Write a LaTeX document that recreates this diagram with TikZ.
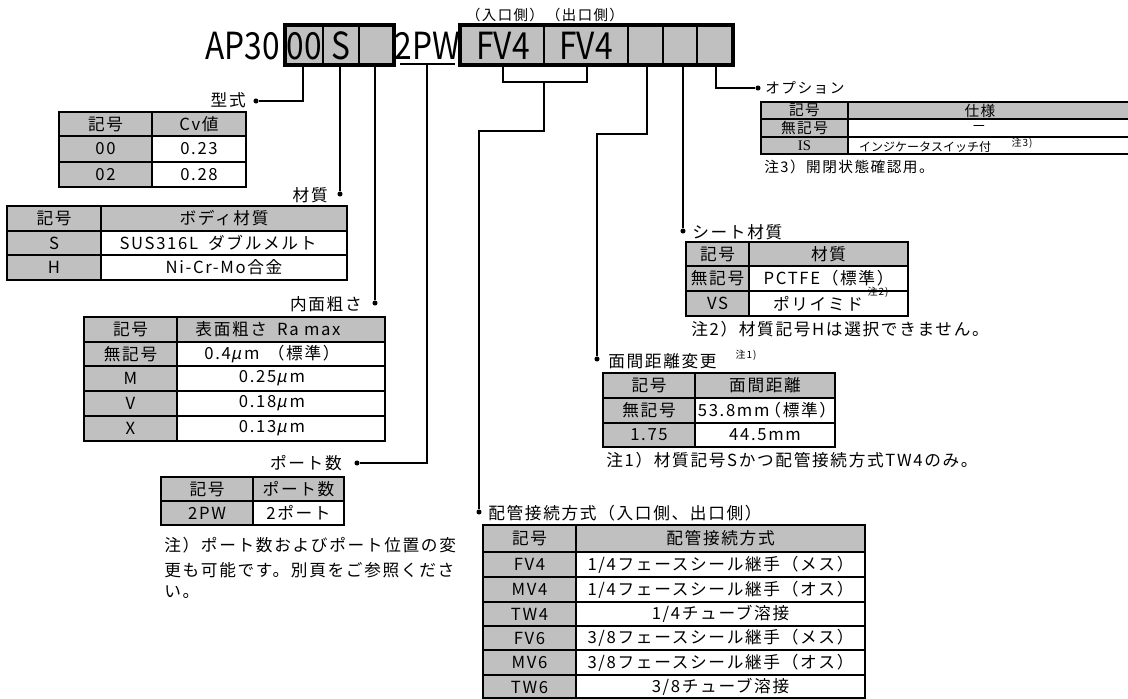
\documentclass[tikz,border=0pt]{standalone}
\usepackage{graphicx}
\usepackage{fontspec}
\setmainfont{Noto Sans CJK JP}[LetterSpace=10]
\newfontfamily\hdfont{Noto Sans CJK JP}
\newfontfamily\muf{Noto Sans CJK JP}[FakeSlant=0.2]
\newfontfamily\serifx{Liberation Serif}
\definecolor{cellgray}{RGB}{192,192,192}
% #1 left, #2 divider, #3 right, #4 top, #5 header bottom, #6 bottom, #7 row separators
\newcommand\mktab[7]{%
  \fill[cellgray] (#1,#4) rectangle (#2,#6);
  \fill[cellgray] (#2,#4) rectangle (#3,#5);
  \fill[white] (#2,#5) rectangle (#3,#6);
  \draw[line width=1.3pt] (#2,#4) -- (#2,#6);
  \foreach \yy in {#7} {\draw[line width=1.5pt] (#1,\yy) -- (#3,\yy);}
  \draw[line width=2pt] (#1,#4) rectangle (#3,#6);
}
\newcommand\um{{\muf μ}\,m}
\newcommand\hd[1]{\scalebox{0.95}[1.12]{#1}}
\tikzset{
  cell/.style={inner sep=0pt, font=\fontsize{12.5}{14}\selectfont},
  lbl/.style={inner sep=0pt, font=\fontsize{12.5}{14}\selectfont},
  toplbl/.style={inner sep=0pt, font=\fontsize{10.8}{13}\selectfont},
  optlbl/.style={inner sep=0pt, font=\fontsize{11}{13}\selectfont},
  txtmini/.style={inner sep=0pt, font=\hdfont\fontsize{9}{10}\selectfont},
  txttiny/.style={inner sep=0pt, font=\fontsize{7.5}{9}\selectfont},
  hdr/.style={inner sep=0pt, font=\hdfont\fontsize{25}{30}\selectfont},
  dot/.style={circle, fill=black, inner sep=0pt, minimum size=3.8pt},
  conn/.style={line width=1.1pt},
  boxthick/.style={line width=3pt},
  boxdiv/.style={line width=1.6pt},
}
\begin{document}
\begin{tikzpicture}[x=0.75pt,y=-0.75pt]
\useasboundingbox (0,0) rectangle (1128,699);
\fill[white] (0,0) rectangle (1128,699);

% ---------- header code ----------
\fill[cellgray] (285,25) rectangle (394,65);
\fill[cellgray] (460,25) rectangle (733,65);
\draw[boxdiv] (323,25)--(323,65) (359,25)--(359,65)
              (544,25)--(544,65) (628,25)--(628,65) (663,25)--(663,65) (697,25)--(697,65);
\draw[boxthick] (285,25) rectangle (394,65);
\draw[boxthick] (460,25) rectangle (733,65);

\node[hdr, anchor=east] (ap) at (280,46) {\hd{AP30}};
\node[hdr] (c00) at (304,46) {\hd{00}};
\node[hdr] (cS) at (341,46) {\hd{S}};
\node[hdr] (c2pw) at (427.5,46) {\hd{2PW}};
\draw[line width=1.1pt] (400,64) -- (455,64);
\node[hdr] (fv1) at (503,46) {\hd{FV4}};
\node[hdr] (fv2) at (586,46) {\hd{FV4}};
\node[toplbl] (inlet) at (505,15) {（入口側）};
\node[toplbl] (outlet) at (585,15) {（出口側）};

% ---------- connectors ----------
\coordinate (b00) at (303,65);
\node[dot] (dType) at (256,101) {};
\draw[conn] (b00) |- (dType);

\coordinate (bS) at (340,65);
\node[dot] (dMat) at (340,194) {};
\draw[conn] (bS) -- (dMat);

\coordinate (bSurf) at (375,65);
\node[dot] (dSurf) at (375,303) {};
\draw[conn] (bSurf) -- (dSurf);

\coordinate (b2pw) at (427,65);
\node[dot] (dPort) at (357,463) {};
\draw[conn] (b2pw) |- (dPort);

\coordinate (bkL) at (503,65);
\coordinate (bkR) at (587,65);
\coordinate (bkC) at (544,82);
\draw[conn] (bkL) |- (bkC) -| (bkR);
\coordinate (pipeTurn) at (544,131);
\node[dot] (dPipe) at (479,512) {};
\draw[conn] (bkC) -- (pipeTurn) -| (dPipe);

\coordinate (bFace) at (647,65);
\coordinate (faceTurn) at (647,134);
\node[dot] (dFace) at (597,359) {};
\draw[conn] (bFace) -- (faceTurn) -| (dFace);

\coordinate (bSeat) at (683,65);
\node[dot] (dSeat) at (683,231) {};
\draw[conn] (bSeat) -- (dSeat);

\coordinate (bOpt) at (716,65);
\node[dot] (dOpt) at (758,88) {};
\draw[conn] (bOpt) |- (dOpt);

% ---------- T1 型式 ----------
\node[lbl, anchor=east] (lType) at (246,100) {型式};
\mktab{59}{152}{246}{112}{136}{187}{136,162}
\node[cell] (t1a) at (105.5,124) {記号};
\node[cell] (t1b) at (199,124) {Cv値};
\node[cell] (t1c) at (105.5,149) {00};
\node[cell] (t1d) at (199,149) {0.23};
\node[cell] (t1e) at (105.5,174.5) {02};
\node[cell] (t1f) at (199,174.5) {0.28};

% ---------- T2 材質 ----------
\node[lbl, anchor=east] (lMat) at (328,195) {材質};
\mktab{7}{101}{347}{206}{231}{280}{231,255}
\node[cell] (t2a) at (54,218.5) {記号};
\node[cell] (t2b) at (224,218.5) {ボディ材質};
\node[cell] (t2c) at (54,243) {S};
\node[cell] (t2d) at (218,243) {SUS316L\hspace{0.6em}ダブルメルト};
\node[cell] (t2e) at (54,267.5) {H};
\node[cell] (t2f) at (224,267.5) {Ni-Cr-Mo合金};

% ---------- T3 内面粗さ ----------
\node[lbl, anchor=east] (lSurf) at (362,304) {内面粗さ};
\mktab{84}{177}{385}{317}{342}{441}{342,366,391,416}
\node[cell] (t3a) at (130.5,329.5) {記号};
\node[cell] (t3b) at (268,329.5) {表面粗さ\hspace{0.6em}Ra max};
\node[cell] (t3c) at (130.5,354) {無記号};
\node[cell] (t3d) at (272,354) {0.4\um\hspace{0.5em}（標準）};
\node[cell] (t3e) at (130.5,378.5) {M};
\node[cell] (t3f) at (272,378.5) {0.25\um};
\node[cell] (t3g) at (130.5,403.5) {V};
\node[cell] (t3h) at (272,403.5) {0.18\um};
\node[cell] (t3i) at (130.5,428.5) {X};
\node[cell] (t3j) at (272,428.5) {0.13\um};

% ---------- T4 ポート数 ----------
\node[lbl, anchor=east] (lPort) at (342,463) {ポート数};
\mktab{161}{253}{344}{477}{501}{525}{501}
\node[cell] (t4a) at (207,489) {記号};
\node[cell] (t4b) at (298.5,489) {ポート数};
\node[cell] (t4c) at (207,513) {2PW};
\node[cell] (t4d) at (298.5,513) {2ポート};
\node[lbl, anchor=west] (nPort1) at (164,545) {注）ポート数およびポート位置の変};
\node[lbl, anchor=west] (nPort2) at (164,570) {更も可能です。別頁をご参照くださ};
\node[lbl, anchor=west] (nPort3) at (164,592) {い。};

% ---------- T5 配管接続方式 ----------
\node[lbl, anchor=west] (lPipe) at (488,513) {配管接続方式（入口側、出口側）};
\mktab{483}{576}{865}{525}{552}{698}{552,577,602,626,650,675}
\node[cell] (t5a) at (529.5,538.5) {記号};
\node[cell] (t5b) at (720.5,538.5) {配管接続方式};
\node[cell] (t5c) at (529.5,564.5) {FV4};
\node[cell] (t5d) at (720.5,564.5) {1/4フェースシール継手（メス）};
\node[cell] (t5e) at (529.5,589.5) {MV4};
\node[cell] (t5f) at (720.5,589.5) {1/4フェースシール継手（オス）};
\node[cell] (t5g) at (529.5,614) {TW4};
\node[cell] (t5h) at (720.5,614) {1/4チューブ溶接};
\node[cell] (t5i) at (529.5,638) {FV6};
\node[cell] (t5j) at (720.5,638) {3/8フェースシール継手（メス）};
\node[cell] (t5k) at (529.5,662.5) {MV6};
\node[cell] (t5l) at (720.5,662.5) {3/8フェースシール継手（オス）};
\node[cell] (t5m) at (529.5,687) {TW6};
\node[cell] (t5n) at (720.5,687) {3/8チューブ溶接};

% ---------- T6 面間距離変更 ----------
\node[lbl, anchor=west] (lFace) at (608,361) {面間距離変更};
\node[txttiny] (sFace) at (746,355) {注1)};
\mktab{603}{695}{835}{373}{398}{447}{398,423}
\node[cell] (t6a) at (649,385.5) {記号};
\node[cell] (t6b) at (765,385.5) {面間距離};
\node[cell] (t6c) at (649,410.5) {無記号};
\node[cell] (t6d) at (767,410.5) {53.8mm\kern-0.3em（標準）};
\node[cell] (t6e) at (649,435) {1.75};
\node[cell] (t6f) at (765,435) {44.5mm};
\node[lbl, anchor=west] (nFace) at (606,460) {注1）材質記号Sかつ配管接続方式TW4のみ。};

% ---------- T7 シート材質 ----------
\node[lbl, anchor=west] (lSeat) at (692,232) {シート材質};
\mktab{686}{749}{908}{242}{266}{316}{266,291}
\node[cell] (t7a) at (717.5,254) {記号};
\node[cell] (t7b) at (828.5,254) {材質};
\node[cell] (t7c) at (717.5,278.5) {無記号};
\node[cell] (t7d) at (828.5,278.5) {PCTFE（標準）};
\node[cell] (t7e) at (717.5,303.5) {VS};
\node[cell] (t7f) at (818,304) {ポリイミド};
\node[txttiny] (s7) at (878,292) {注2)};
\node[lbl, anchor=west] (nSeat) at (691,329) {注2）材質記号Hは選択できません。};

% ---------- T8 オプション ----------
\node[optlbl, anchor=west] (lOpt) at (765,88) {オプション};
\mktab{761}{848}{1132}{102}{119}{154}{119,137}
\node[optlbl] (t8a) at (804.5,110.5) {記号};
\node[optlbl] (t8b) at (980,110.5) {仕様};
\node[optlbl] (t8c) at (804.5,128) {無記号};
\node[optlbl] (t8d) at (979,128) {－};
\node[optlbl] (t8e) at (804.5,145.5) {\serifx IS};
\node[txtmini] (t8f) at (925,146.5) {インジケータスイッチ付};
\node[txttiny] (s8) at (1022,143) {注3)};
\node[optlbl, anchor=west] (nOpt) at (764,167) {注3）開閉状態確認用。};
\end{tikzpicture}
\end{document}
